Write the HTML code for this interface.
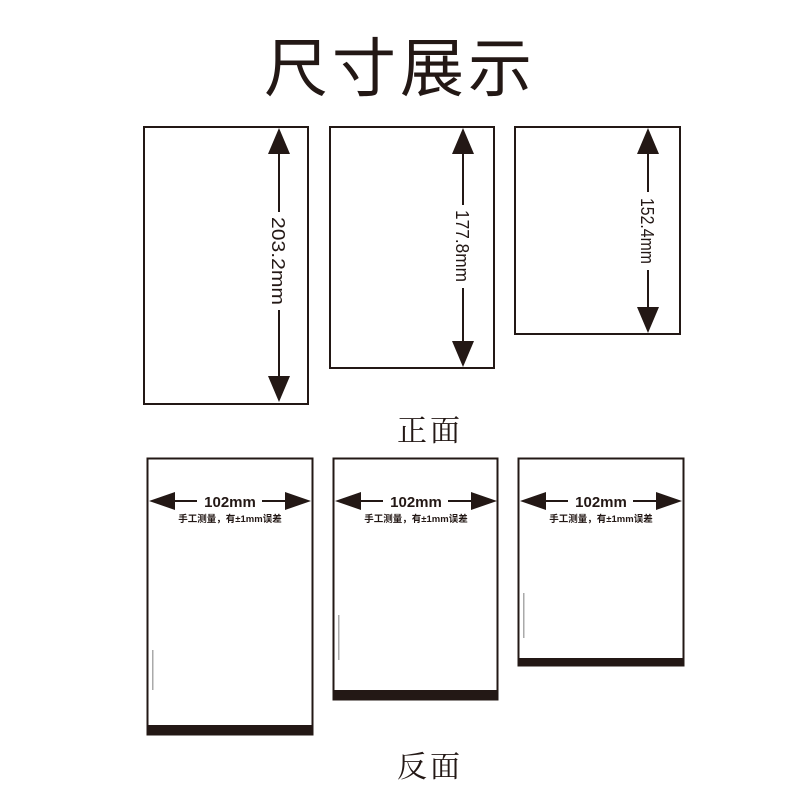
<!DOCTYPE html>
<html><head><meta charset="utf-8"><style>html,body{margin:0;padding:0;background:#fff}svg{display:block}</style></head>
<body>
<svg width="800" height="800" viewBox="0 0 800 800" xmlns="http://www.w3.org/2000/svg">
<rect width="800" height="800" fill="#fff"/>
<text x="400" y="91" text-anchor="middle" font-family="Liberation Sans, Noto Sans CJK SC, sans-serif" font-size="64" font-weight="400" fill="#231815" letter-spacing="4">尺寸展示</text>
<g fill="none" stroke="#231815" stroke-width="2">
<rect x="144" y="127" width="164" height="277"/>
<rect x="330" y="127" width="164" height="241"/>
<rect x="515" y="127" width="165" height="207"/>
<rect x="147.5" y="458.5" width="165" height="276"/>
<rect x="333.5" y="458.5" width="164" height="241"/>
<rect x="518.5" y="458.5" width="165" height="207"/>
</g>
<g fill="#231815">
<rect x="147" y="725" width="166" height="10"/>
<rect x="333" y="690" width="165" height="10"/>
<rect x="518" y="658" width="166" height="8"/>
</g>
<g stroke="#231815" stroke-width="2">
<line x1="279" y1="150" x2="279" y2="212"/><line x1="279" y1="310" x2="279" y2="380"/>
<line x1="463" y1="150" x2="463" y2="205"/><line x1="463" y1="288" x2="463" y2="345"/>
<line x1="648" y1="150" x2="648" y2="192"/><line x1="648" y1="270" x2="648" y2="310"/>
</g>
<g fill="#231815">
<polygon points="279,128 268,154 290,154"/><polygon points="279,402 268,376 290,376"/>
<polygon points="463,128 452,154 474,154"/><polygon points="463,367 452,341 474,341"/>
<polygon points="648,128 637,154 659,154"/><polygon points="648,333 637,307 659,307"/>
</g>
<g font-family="Liberation Sans, sans-serif" font-size="22" fill="#231815" text-anchor="middle">
<text transform="translate(272,261) rotate(90) scale(1,0.85)" textLength="88" lengthAdjust="spacingAndGlyphs">203.2mm</text>
<text transform="translate(456,246) rotate(90) scale(1,0.85)" textLength="72" lengthAdjust="spacingAndGlyphs">177.8mm</text>
<text transform="translate(641,231) rotate(90) scale(1,0.85)" textLength="66" lengthAdjust="spacingAndGlyphs">152.4mm</text>
</g>
<text x="430" y="441" text-anchor="middle" font-family="Liberation Serif, Noto Serif CJK SC, serif" font-size="30" fill="#231815" letter-spacing="3">正面</text>
<text x="430" y="777" text-anchor="middle" font-family="Liberation Serif, Noto Serif CJK SC, serif" font-size="30" fill="#231815" letter-spacing="3">反面</text>
<g id="h">
<line x1="170" y1="501" x2="197" y2="501" stroke="#231815" stroke-width="2"/>
<line x1="262" y1="501" x2="290" y2="501" stroke="#231815" stroke-width="2"/>
<polygon points="149,501 175,492 175,510" fill="#231815"/>
<polygon points="311,501 285,492 285,510" fill="#231815"/>
<text x="230" y="507" text-anchor="middle" font-family="Liberation Sans, sans-serif" font-size="15" font-weight="bold" fill="#231815">102mm</text>
<text x="230" y="522" text-anchor="middle" font-family="Liberation Sans, Noto Sans CJK SC, sans-serif" font-size="9.5" font-weight="bold" fill="#231815">手工测量，有±1mm误差</text>
</g>
<use href="#h" transform="translate(186,0)"/>
<use href="#h" transform="translate(371,0)"/>
<g fill="#aaa">
<rect x="152" y="650" width="1.5" height="40"/>
<rect x="338" y="615" width="1.5" height="45"/>
<rect x="523" y="593" width="1.5" height="45"/>
</g>
</svg>
</body></html>
